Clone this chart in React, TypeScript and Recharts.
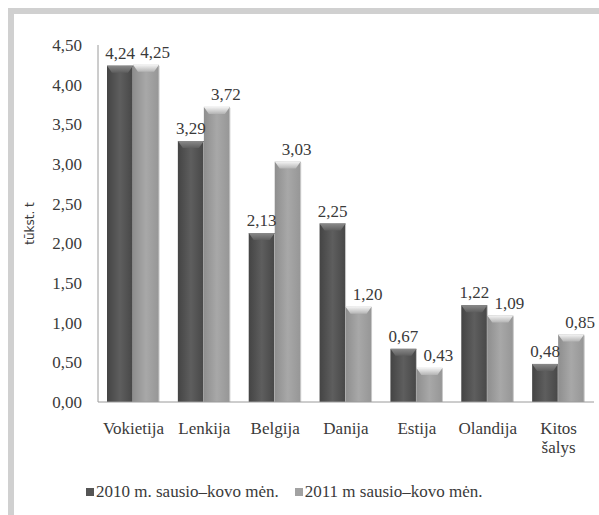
import React from "react";
import { BarChart, Bar, XAxis, YAxis, LabelList, Legend } from "recharts";

const countries = ["Vokietija", "Lenkija", "Belgija", "Danija", "Estija", "Olandija", "Kitos šalys"];
const values2010 = [4.24, 3.29, 2.13, 2.25, 0.67, 1.22, 0.48];
const values2011 = [4.25, 3.72, 3.03, 1.2, 0.43, 1.09, 0.85];
const yTicks = [0, 0.5, 1, 1.5, 2, 2.5, 3, 3.5, 4, 4.5];
const seriesNames = ["2010 m. sausio–kovo mėn.", "2011 m sausio–kovo mėn."];

const data = countries.map((name, i) => ({
  name,
  v2010: values2010[i],
  v2011: values2011[i],
}));

const SERIF = '"Liberation Serif", "DejaVu Serif", serif';
const TEXT = "#3a3a3a";

const fmt = (v: number) => v.toFixed(2).replace(".", ",");

const BevelBar = (props: any) => {
  const { x, y, width, height, dark } = props;
  if (!height || height <= 0) return null;
  const cap = Math.min(7, height / 2);
  const inset = 5;
  return (
    <g>
      <rect x={x} y={y} width={width} height={height} fill={dark ? "url(#gDark)" : "url(#gLight)"} />
      <polygon
        points={`${x},${y} ${x + width},${y} ${x + width - inset},${y + cap} ${x + inset},${y + cap}`}
        fill={dark ? "url(#gDarkCap)" : "url(#gLightCap)"}
      />
      <line x1={x + width} y1={y + 1} x2={x + width} y2={y + height} stroke="#c8c8c8" strokeWidth={1} />
    </g>
  );
};

const CatTick = (props: any) => {
  const { x, y, payload } = props;
  const words = String(payload.value).split(" ");
  return (
    <text x={x} y={y} textAnchor="middle" fill={TEXT} style={{ fontFamily: SERIF, fontSize: 17 }}>
      {words.map((w, i) => (
        <tspan key={i} x={x} dy={i === 0 ? "0.71em" : 19}>
          {w}
        </tspan>
      ))}
    </text>
  );
};

const LegendContent = () => (
  <div style={{ display: "flex", fontFamily: SERIF, fontSize: 17, color: TEXT, whiteSpace: "nowrap" }}>
    <div style={{ display: "flex", alignItems: "center", marginRight: 16 }}>
      <span style={{ width: 8, height: 8, background: "#555", display: "inline-block", marginRight: 2 }} />
      {seriesNames[0]}
    </div>
    <div style={{ display: "flex", alignItems: "center" }}>
      <span style={{ width: 8, height: 8, background: "#a2a2a2", display: "inline-block", marginRight: 2 }} />
      {seriesNames[1]}
    </div>
  </div>
);

const labelStyle = { fill: TEXT, fontFamily: SERIF, fontSize: 17 };

export default function App() {
  return (
    <div style={{ position: "absolute", left: 0, top: 0, width: 599, height: 515, background: "#fff" }}>
      <div
        style={{
          position: "absolute",
          left: 8,
          top: 8,
          right: 0,
          bottom: 0,
          borderTop: "6px solid #d0d0d0",
          borderLeft: "6px solid #d0d0d0",
        }}
      />
      <div style={{ position: "absolute", left: 0, top: 0 }}>
        <BarChart
          width={599}
          height={515}
          data={data}
          margin={{ top: 45, right: 5, left: 0, bottom: 83 }}
          barGap={0}
        >
          <defs>
            <linearGradient id="gDark" x1="0" y1="0" x2="1" y2="0">
              <stop offset="0%" stopColor="#444" />
              <stop offset="50%" stopColor="#5e5e5e" />
              <stop offset="100%" stopColor="#474747" />
            </linearGradient>
            <linearGradient id="gLight" x1="0" y1="0" x2="1" y2="0">
              <stop offset="0%" stopColor="#8e8e8e" />
              <stop offset="50%" stopColor="#a8a8a8" />
              <stop offset="100%" stopColor="#969696" />
            </linearGradient>
            <linearGradient id="gDarkCap" x1="0" y1="0" x2="0" y2="1">
              <stop offset="0%" stopColor="#8a8a8a" />
              <stop offset="100%" stopColor="#5e5e5e" />
            </linearGradient>
            <linearGradient id="gLightCap" x1="0" y1="0" x2="0" y2="1">
              <stop offset="0%" stopColor="#f4f4f4" />
              <stop offset="100%" stopColor="#b4b4b4" />
            </linearGradient>
          </defs>
          <XAxis
            dataKey="name"
            interval={0}
            tickLine={false}
            tickSize={0}
            tickMargin={20}
            axisLine={{ stroke: "#9a9a9a" }}
            tick={<CatTick />}
          />
          <YAxis
            width={98}
            domain={[0, 4.5]}
            ticks={yTicks}
            interval={0}
            tickLine={false}
            tickSize={0}
            tickMargin={16}
            axisLine={{ stroke: "#9a9a9a" }}
            tickFormatter={fmt}
            tick={{ fill: TEXT, style: { fontFamily: SERIF, fontSize: 17 } }}
            label={{
              value: "tūkst. t",
              angle: -90,
              position: "insideLeft",
              offset: 30,
              style: { fill: TEXT, fontFamily: "'DejaVu Sans', sans-serif", fontSize: 12, textAnchor: "middle" },
            }}
          />
          <Legend
            layout="vertical"
            align="center"
            verticalAlign="middle"
            wrapperStyle={{ position: "absolute", top: 482, left: 86, width: "auto" }}
            content={<LegendContent />}
          />
          <Bar
            dataKey="v2010"
            name={seriesNames[0]}
            barSize={26}
            isAnimationActive={false}
            shape={(p: any) => <BevelBar {...p} dark />}
          >
            <LabelList
              dataKey="v2010"
              position="top"
              offset={7}
              formatter={(v: any) => fmt(Number(v))}
              style={labelStyle}
            />
          </Bar>
          <Bar
            dataKey="v2011"
            name={seriesNames[1]}
            barSize={26}
            isAnimationActive={false}
            shape={(p: any) => <BevelBar {...p} />}
          >
            <LabelList
              dataKey="v2011"
              position="top"
              offset={7}
              dx={9}
              formatter={(v: any) => fmt(Number(v))}
              style={labelStyle}
            />
          </Bar>
        </BarChart>
      </div>
    </div>
  );
}
